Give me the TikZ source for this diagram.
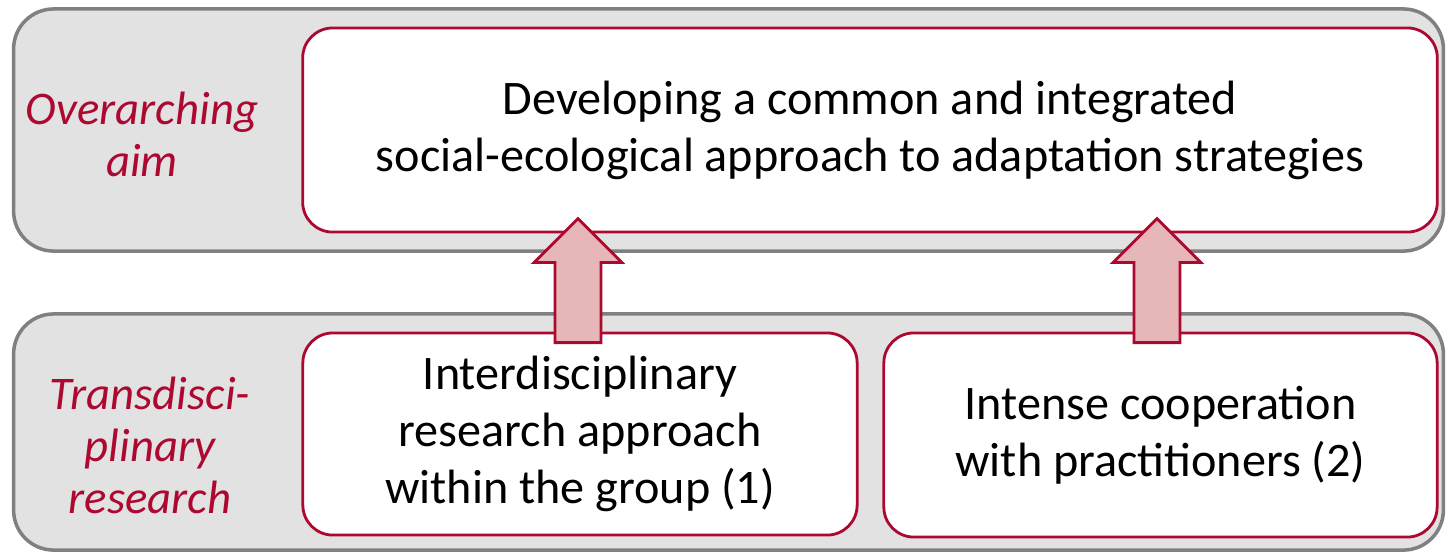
\documentclass[tikz,border=0pt]{standalone}
\usepackage{fontspec}
\setmainfont{Carlito}
\usetikzlibrary{shapes.arrows,positioning}
\definecolor{darkred}{RGB}{172,8,48}
\definecolor{lightgrey}{RGB}{226,226,226}
\definecolor{edgegrey}{RGB}{128,128,128}
\definecolor{arrowpink}{RGB}{230,182,184}

\tikzset{
  band/.style={draw=edgegrey,fill=lightgrey,line width=1pt,rounded corners=0.4cm,inner sep=0pt},
  panel/.style={draw=darkred,fill=white,line width=0.8pt,rounded corners=0.3cm,inner sep=0pt,
    align=center,font=\fontsize{13.7}{16.2}\selectfont},
  sidelabel/.style={text=darkred,align=center,font=\fontsize{13.3}{14.8}\selectfont\itshape},
  uparrow/.style={single arrow,draw=darkred,fill=arrowpink,line width=0.8pt,rotate=90,
    inner xsep=0pt,inner ysep=0.215cm,minimum height=1.24cm,single arrow head extend=0.21cm,
    single arrow tip angle=90,anchor=tail}
}

\begin{document}
\begin{tikzpicture}[x=0.01cm,y=-0.01cm]
\useasboundingbox (0,0) rectangle (1447,553);
% grey bands
\node[band,minimum width=14.29cm,minimum height=2.42cm] (topband) at (728.5,130) {};
\node[band,minimum width=14.29cm,minimum height=2.36cm] (botband) at (728.5,432) {};
% white panels
\node[panel,minimum width=11.34cm,minimum height=2.04cm] (aim) at (870,130)
  {Developing a common and integrated\\social-ecological approach to adaptation strategies};
\node[panel,minimum width=5.54cm,minimum height=2.02cm] (inter) at (580,434)
  {Interdisciplinary\\research approach\\within the group (1)};
\node[panel,minimum width=5.53cm,minimum height=2.04cm] (coop) at (1160.5,435)
  {Intense cooperation\\with practitioners (2)};
% side labels
\node[sidelabel] (aimlabel) at (142,134) {Overarching\\aim};
\node[sidelabel] (translabel) at (150,445) {Transdisci-\\plinary\\research};
% block arrows
\node[uparrow] (arrowL) at (578,344) {};
\node[uparrow] (arrowR) at (1157,344) {};
\end{tikzpicture}
\end{document}
